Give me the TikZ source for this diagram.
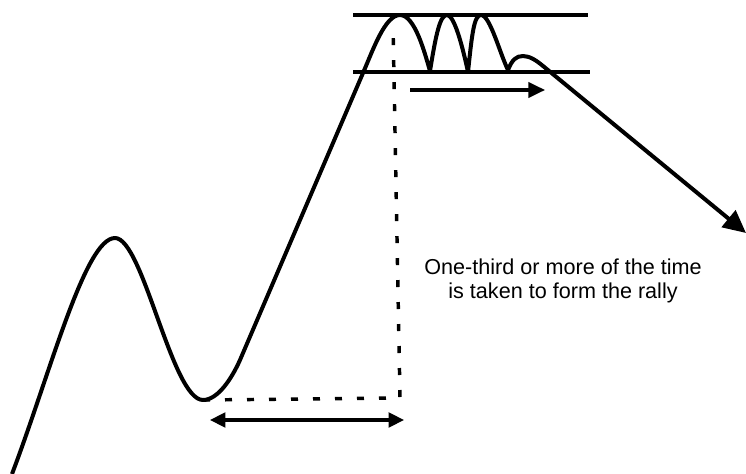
\documentclass[tikz,border=0pt]{standalone}
\usepackage{fontspec}
\setmainfont{Liberation Sans}
\usetikzlibrary{arrows.meta}

\begin{document}
\begin{tikzpicture}[x=0.75pt,y=0.75pt,
    curve/.style={line width=3pt,line join=round},
    chan/.style={line width=2.6pt},
    dotline/.style={line width=2.6pt,dash pattern=on 5.25pt off 11.25pt},
    arr/.style={line width=2.3pt,-{Triangle[length=12.5pt,width=11.5pt]}},
    twoarr/.style={line width=2.3pt,{Triangle[length=11.5pt,width=11pt]}-{Triangle[length=11.5pt,width=11pt]}},
    note/.style={align=center,font=\fontsize{16.2}{17.5}\selectfont}]
  \useasboundingbox (0,0) rectangle (746,474);
  % key points of the price path
  \coordinate (s) at (12,0);
  \coordinate (p1) at (115,236);
  \coordinate (t1) at (203,74);
  \coordinate (top) at (400,459);
  \coordinate (end) at (746,241);
  % channel lines
  \coordinate (ul) at (353,459); \coordinate (ur) at (588,459);
  \coordinate (ll) at (353,402); \coordinate (lr) at (590,402);
  \draw[chan] (ul) -- (ur);
  \draw[chan] (ll) -- (lr);
  % time markers
  \coordinate (c) at (400,76);
  \coordinate (vt) at (393,449);
  \draw[dotline] (t1) -- (c) -- (vt);
  \coordinate (a1) at (210,54); \coordinate (a2) at (404,54);
  \draw[twoarr] (a1) -- (a2);
  \coordinate (b1) at (410,384); \coordinate (b2) at (545,384);
  \draw[arr] (b1) -- (b2);
  % the path itself
  \draw[curve,-{Triangle[length=17pt,width=16pt]}] (s)
     .. controls (50,100) and (85,236) .. (p1)
     .. controls (143,236) and (172,74) .. (t1)
     .. controls (218,74) and (232,96) .. (240,114) -- (363,401)
     .. controls (373,424) and (385,459) .. (top)
     .. controls (415,459) and (425,420) .. (430,403)
     .. controls (436,440) and (440,459) .. (447,459)
     .. controls (454,459) and (462,430) .. (468,402)
     .. controls (472,440) and (474,459) .. (481,459)
     .. controls (490,459) and (500,420) .. (508,404)
     .. controls (512,414) and (516,418) .. (523,418)
     .. controls (530,418) and (537,413) .. (543,408)
     -- (end);
  \node[note] (txt) at (563,193) {One-third or more of the time\\is taken to form the rally};
\end{tikzpicture}
\end{document}
